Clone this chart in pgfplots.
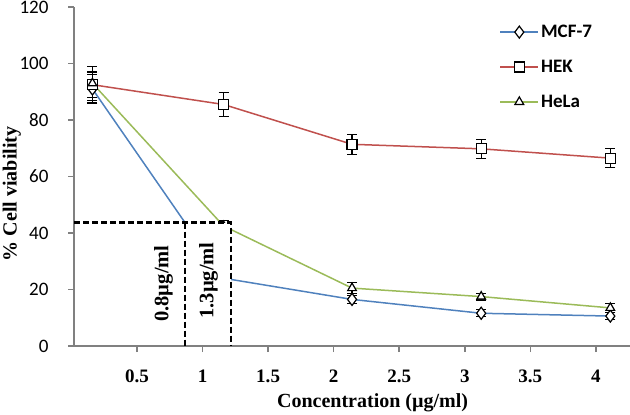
\documentclass[border=0pt]{standalone}
\usepackage{pgfplots}
\pgfplotsset{compat=1.18}
\usepackage{fontspec}
\setmainfont{Liberation Serif}
\newfontfamily\carlito{Carlito}
\definecolor{mcfblue}{RGB}{79,129,189}
\definecolor{hekred}{RGB}{192,80,77}
\definecolor{helagreen}{RGB}{155,187,89}
\begin{document}
\begin{tikzpicture}
\useasboundingbox (-74pt,-68.3pt) rectangle (555.4pt,345.7pt);
\begin{axis}[
  scale only axis, width=555.4pt, height=338.7pt,
  xmin=0.02, xmax=4.26, ymin=0, ymax=120,
  axis x line=bottom, axis y line=left,
  axis line style={-, draw=gray, line width=1.5pt},
  axis on top,
  xtick={0.5,1,1.5,2,2.5,3,3.5,4}, ytick={0,20,40,60,80,100,120},
  tick align=outside, major tick length=6pt,
  tick style={draw=gray, line width=1.5pt},
  /pgf/number format/assume math mode=true,
  xticklabel style={font=\bfseries\fontsize{19}{22}\selectfont, yshift=-14pt},
  yticklabel style={font=\carlito\fontsize{19}{21}\selectfont, xshift=-16pt},
  xlabel={Concentration (µg/ml)}, ylabel={\% Cell viability},
  label style={font=\bfseries\fontsize{20}{23}\selectfont},
  xlabel style={at={(axis description cs:0.537,-0.168)}, anchor=center},
  ylabel style={at={(axis description cs:-0.112,0.449)}, anchor=center},
  legend style={draw=none, fill=none, at={(axis description cs:0.765,0.953)}, anchor=north west,
    font=\carlito\bfseries\fontsize{19}{21}\selectfont, row sep=17pt, inner sep=0pt},
  legend cell align=left,
  legend image code/.code={\draw[mark repeat=2,mark phase=2] plot coordinates {(0pt,0pt) (19pt,0pt) (38pt,0pt)};},
  every axis plot/.append style={line width=1.5pt},
  error bars/error bar style={black, line width=1.2pt},
  error bars/error mark options={black, mark size=5pt, line width=1.2pt, rotate=90},
]
\addplot[color=mcfblue, mark=diamond*, mark size=6pt, mark options={fill=white, draw=black, line width=1.2pt},
  error bars/.cd, y dir=both, y explicit]
coordinates {(0.16,91) +- (0,5) (1.16,24) +- (0,2) (2.14,16.5) +- (0,1.5) (3.125,11.6) +- (0,1.2) (4.11,10.6) +- (0,1.2)};
\addlegendentry{MCF-7}
\addplot[color=hekred, mark=square*, mark size=5pt, mark options={fill=white, draw=black, line width=1.2pt},
  error bars/.cd, y dir=both, y explicit]
coordinates {(0.16,92.5) +- (0,4.5) (1.16,85.5) +- (0,4.2) (2.14,71.4) +- (0,3.5) (3.125,69.8) +- (0,3.4) (4.11,66.5) +- (0,3.3)};
\addlegendentry{HEK}
\addplot[color=helagreen, mark=triangle*, mark size=5pt, mark options={fill=white, draw=black, line width=1.2pt},
  error bars/.cd, y dir=both, y explicit]
coordinates {(0.16,93) +- (0,6) (1.16,42.5) +- (0,2) (2.14,20.5) +- (0,2) (3.125,17.5) +- (0,1.2) (4.11,13.5) +- (0,1.5)};
\addlegendentry{HeLa}
\coordinate (BL) at (axis cs:0.867,0.7);
\coordinate (TR) at (axis cs:1.218,43.7);
\coordinate (H0) at (axis cs:0.02,43.7);
\coordinate (V1t) at (axis cs:0.867,43.7);
\coordinate (V1b) at (axis cs:0.867,0);
\coordinate (V2b) at (axis cs:1.218,0);
\coordinate (L1) at (axis cs:0.702,22.1);
\coordinate (L2) at (axis cs:1.045,23.2);
\end{axis}
\fill[white] (BL) rectangle (TR);
\draw[black, line width=2.2pt, dash pattern=on 6pt off 3pt] (H0) -- (TR) -- (V2b);
\draw[black, line width=2.2pt, dash pattern=on 6pt off 3pt] (V1t) -- (V1b);
\node[rotate=90, font=\bfseries\fontsize{20.5}{23}\selectfont] at (L1) {0.8µg/ml};
\node[rotate=90, font=\bfseries\fontsize{20.5}{23}\selectfont] at (L2) {1.3µg/ml};
\end{tikzpicture}
\end{document}
